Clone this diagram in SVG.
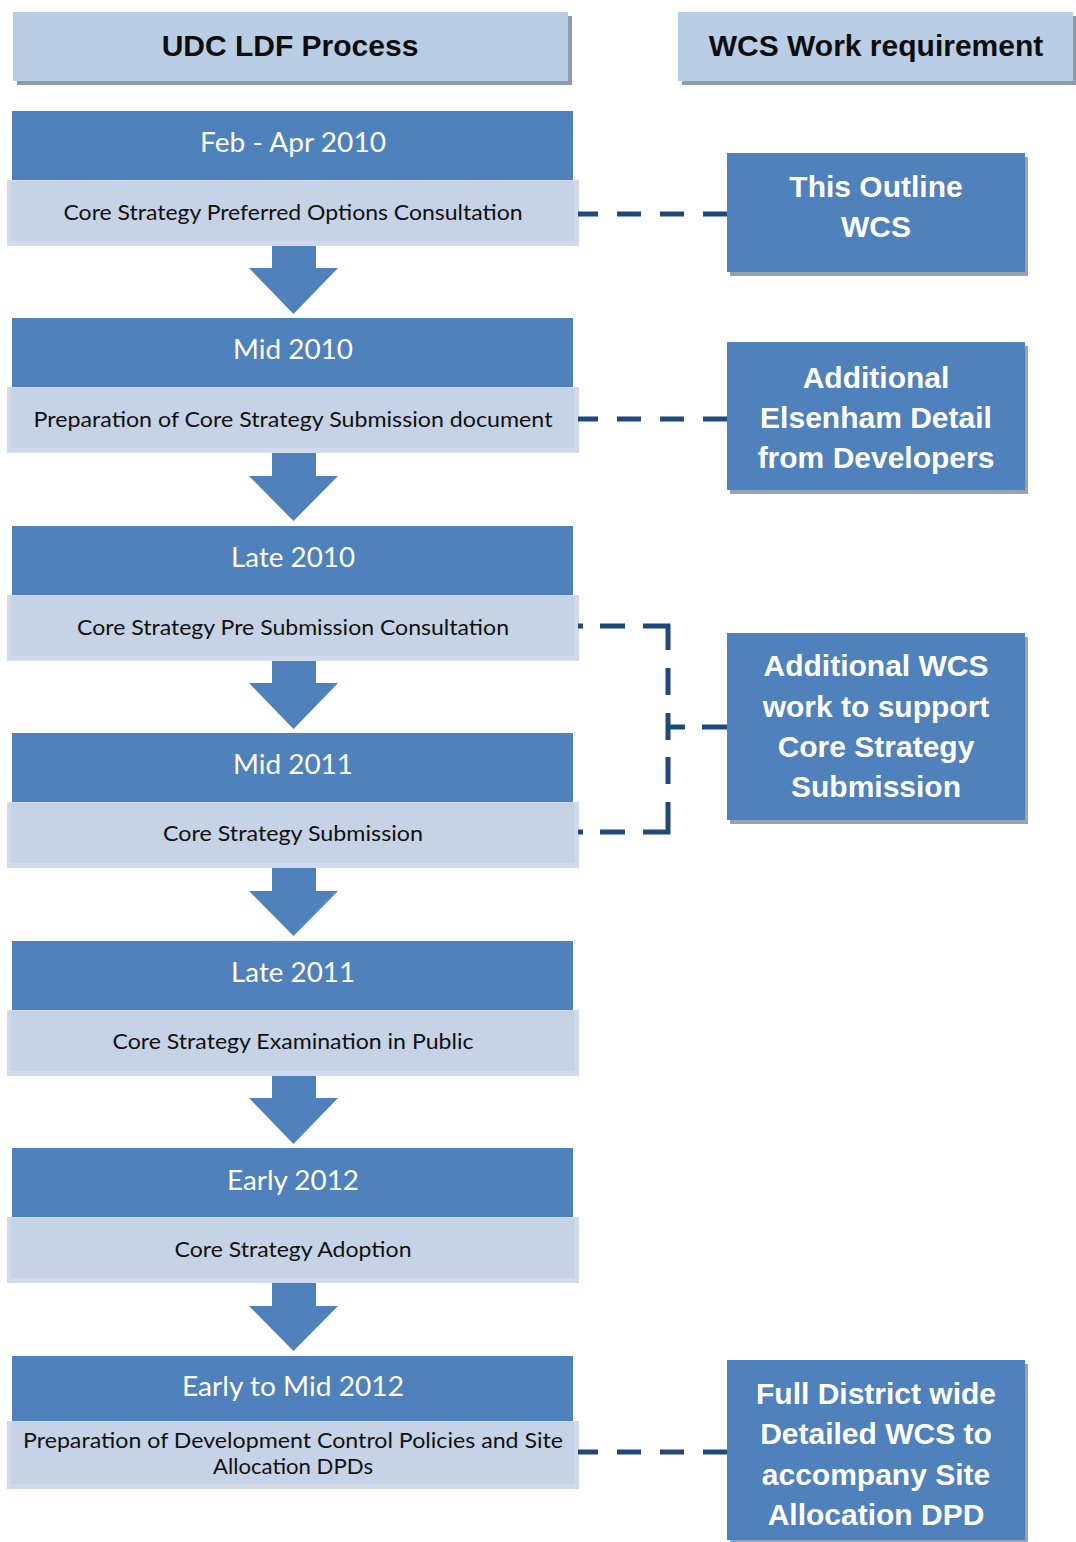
<svg xmlns="http://www.w3.org/2000/svg" width="1076" height="1542" viewBox="0 0 1076 1542">
<style>
.hdr{fill:#b9cde5}
.hsh{fill:#8f9bab}
.blue{fill:#4f81bd}
.lo{fill:#d2dbeb}
.li{fill:#c6d2e6}
.rsh{fill:#98a3b3}
.arrow{fill:#4f81bd}
.ht{font-family:"Liberation Sans",Arial,sans-serif;font-weight:bold;font-size:30px;fill:#0d0d0d;text-anchor:middle}
.rt{font-family:"Liberation Sans",Arial,sans-serif;font-weight:bold;font-size:30px;fill:#ffffff;text-anchor:middle}
.dt{font-family:Lato,"Open Sans",sans-serif;font-size:27px;fill:#ffffff;text-anchor:middle}
.ds{font-family:Lato,"Open Sans",sans-serif;font-size:22px;fill:#111111;text-anchor:middle}
.dash{fill:none;stroke:#1f497d;stroke-width:5;stroke-dasharray:24 19}
.seg{fill:none;stroke:#1f497d;stroke-width:5}
</style>
<rect width="1076" height="1542" fill="#ffffff"/>

<g id="header-udc">
<rect class="hsh" x="17" y="16" width="555" height="69"/>
<rect class="hdr" x="13" y="12" width="555" height="69"/>
<text class="ht" x="290" y="56">UDC LDF Process</text>
</g>
<g id="header-wcs">
<rect class="hsh" x="682" y="16" width="394" height="69"/>
<rect class="hdr" x="678" y="12" width="395" height="69"/>
<text class="ht" x="876" y="56">WCS Work requirement</text>
</g>

<g id="arrows">
<path class="arrow" d="M272 240 H316 V268 H338 L293.5 314 L249 268 H272 Z"/>
<path class="arrow" d="M272 447 H316 V476 H338 L293.5 521 L249 476 H272 Z"/>
<path class="arrow" d="M272 655 H316 V683 H338 L293.5 729 L249 683 H272 Z"/>
<path class="arrow" d="M272 862 H316 V891 H338 L293.5 936 L249 891 H272 Z"/>
<path class="arrow" d="M272 1070 H316 V1098 H338 L293.5 1144 L249 1098 H272 Z"/>
<path class="arrow" d="M272 1277 H316 V1306 H338 L293.5 1351 L249 1306 H272 Z"/>
</g>

<g id="stage1">
<rect class="blue" x="12" y="111" width="561" height="69"/>
<rect class="lo" x="7" y="180" width="572" height="66"/>
<rect class="li" x="11" y="181" width="564" height="60"/>
<text class="dt" x="293" y="152" textLength="186" lengthAdjust="spacingAndGlyphs">Feb - Apr 2010</text>
<text class="ds" x="293" y="220" textLength="459" lengthAdjust="spacingAndGlyphs">Core Strategy Preferred Options Consultation</text>
</g>
<g id="stage2">
<rect class="blue" x="12" y="318" width="561" height="69"/>
<rect class="lo" x="7" y="387" width="572" height="66"/>
<rect class="li" x="11" y="388" width="564" height="60"/>
<text class="dt" x="293" y="359" textLength="120" lengthAdjust="spacingAndGlyphs">Mid 2010</text>
<text class="ds" x="293" y="427" textLength="519" lengthAdjust="spacingAndGlyphs">Preparation of Core Strategy Submission document</text>
</g>
<g id="stage3">
<rect class="blue" x="12" y="526" width="561" height="69"/>
<rect class="lo" x="7" y="595" width="572" height="66"/>
<rect class="li" x="11" y="596" width="564" height="60"/>
<text class="dt" x="293" y="567" textLength="124" lengthAdjust="spacingAndGlyphs">Late 2010</text>
<text class="ds" x="293" y="635" textLength="432" lengthAdjust="spacingAndGlyphs">Core Strategy Pre Submission Consultation</text>
</g>
<g id="stage4">
<rect class="blue" x="12" y="733" width="561" height="69"/>
<rect class="lo" x="7" y="802" width="572" height="66"/>
<rect class="li" x="11" y="803" width="564" height="60"/>
<text class="dt" x="293" y="774" textLength="120" lengthAdjust="spacingAndGlyphs">Mid 2011</text>
<text class="ds" x="293" y="841" textLength="260" lengthAdjust="spacingAndGlyphs">Core Strategy Submission</text>
</g>
<g id="stage5">
<rect class="blue" x="12" y="941" width="561" height="69"/>
<rect class="lo" x="7" y="1010" width="572" height="66"/>
<rect class="li" x="11" y="1011" width="564" height="60"/>
<text class="dt" x="293" y="982" textLength="124" lengthAdjust="spacingAndGlyphs">Late 2011</text>
<text class="ds" x="293" y="1049" textLength="361" lengthAdjust="spacingAndGlyphs">Core Strategy Examination in Public</text>
</g>
<g id="stage6">
<rect class="blue" x="12" y="1148" width="561" height="69"/>
<rect class="lo" x="7" y="1217" width="572" height="66"/>
<rect class="li" x="11" y="1218" width="564" height="60"/>
<text class="dt" x="293" y="1190" textLength="132" lengthAdjust="spacingAndGlyphs">Early 2012</text>
<text class="ds" x="293" y="1257" textLength="237" lengthAdjust="spacingAndGlyphs">Core Strategy Adoption</text>
</g>
<g id="stage7">
<rect class="blue" x="12" y="1356" width="561" height="65"/>
<rect class="lo" x="7" y="1421" width="572" height="68"/>
<rect class="li" x="11" y="1422" width="564" height="62"/>
<text class="dt" x="293" y="1396" textLength="222" lengthAdjust="spacingAndGlyphs">Early to Mid 2012</text>
<text class="ds" x="293" y="1448" textLength="540" lengthAdjust="spacingAndGlyphs">Preparation of Development Control Policies and Site</text>
<text class="ds" x="293" y="1474" textLength="160" lengthAdjust="spacingAndGlyphs">Allocation DPDs</text>
</g>

<g id="wcs-outline">
<rect class="rsh" x="730" y="157" width="298" height="119"/>
<rect class="blue" x="727" y="153" width="298" height="119"/>
<text class="rt" x="876" y="197">This Outline</text>
<text class="rt" x="876" y="237">WCS</text>
</g>
<g id="wcs-elsenham">
<rect class="rsh" x="730" y="346" width="298" height="148"/>
<rect class="blue" x="727" y="342" width="298" height="148"/>
<text class="rt" x="876" y="388">Additional</text>
<text class="rt" x="876" y="428">Elsenham Detail</text>
<text class="rt" x="876" y="468">from Developers</text>
</g>
<g id="wcs-support">
<rect class="rsh" x="730" y="637" width="298" height="187"/>
<rect class="blue" x="727" y="633" width="298" height="187"/>
<text class="rt" x="876" y="676">Additional WCS</text>
<text class="rt" x="876" y="717">work to support</text>
<text class="rt" x="876" y="757">Core Strategy</text>
<text class="rt" x="876" y="797">Submission</text>
</g>
<g id="wcs-district">
<rect class="rsh" x="730" y="1364" width="298" height="178"/>
<rect class="blue" x="727" y="1360" width="298" height="180"/>
<text class="rt" x="876" y="1404">Full District wide</text>
<text class="rt" x="876" y="1444">Detailed WCS to</text>
<text class="rt" x="876" y="1485">accompany Site</text>
<text class="rt" x="876" y="1525">Allocation DPD</text>
</g>

<g id="connectors">
<path class="dash" d="M727 214 H578"/>
<path class="dash" d="M727 419 H578"/>
<path class="dash" d="M727 1452 H578"/>
<path class="seg" d="M578 626 H583 M600 626 H625 M643 626 H668 V650 M668 668 V695 M668 713 V740 M668 757 V784 M668 802 V832 H643 M625 832 H600 M583 832 H578 M668 727 H685 M702 727 H727"/>
</g>
</svg>
